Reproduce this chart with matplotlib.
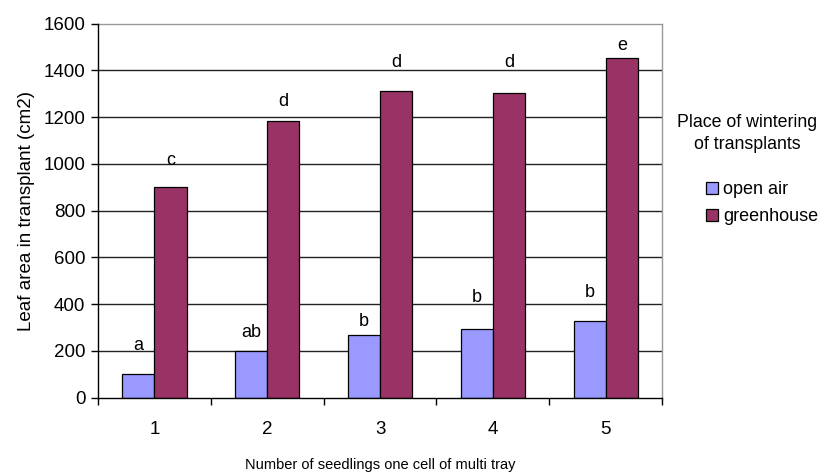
import numpy as np
import matplotlib
matplotlib.use("Agg")
import matplotlib.pyplot as plt

plt.rcParams['font.family'] = ['Liberation Sans', 'DejaVu Sans']

# leaf area per transplant, by seedlings per cell
seedlings = ['1', '2', '3', '4', '5']
open_air = [103, 200, 267, 293, 327]
greenhouse = [900, 1182, 1311, 1304, 1455]

# significance letters and the height they sit at
letters_open = ['a', 'ab', 'b', 'b', 'b']
letters_open_y = [224, 277, 327, 427, 448]
letters_green = ['c', 'd', 'd', 'd', 'e']
letters_green_y = [1015, 1267, 1434, 1434, 1506]

yticks = [0, 200, 400, 600, 800, 1000, 1200, 1400, 1600]

c_open = '#9999FF'
c_green = '#993366'

fig = plt.figure(figsize=(8.26, 4.75), dpi=100)
ax = fig.add_axes([0.1186, 0.163, 0.683, 0.787])

x = np.arange(len(seedlings))
w = 0.285
b1 = ax.bar(x - w/2, open_air, w, color=c_open, edgecolor='black', linewidth=0.9, zorder=3, label='open air')
b2 = ax.bar(x + w/2, greenhouse, w, color=c_green, edgecolor='black', linewidth=0.9, zorder=3, label='greenhouse')

for i in range(len(seedlings)):
    ax.text(x[i] - w/2, letters_open_y[i], letters_open[i], ha='center', va='center', fontsize=13)
    ax.text(x[i] + w/2, letters_green_y[i], letters_green[i], ha='center', va='center', fontsize=13)

ax.set_xlim(-0.5, len(seedlings) - 0.5)
ax.set_ylim(0, 1600)
ax.set_yticks(yticks)
ax.set_yticklabels([str(v) for v in yticks], fontsize=13.5)
ax.set_xticks(x)
ax.set_xticklabels(seedlings, fontsize=13.5)
ax.tick_params(axis='x', length=0, pad=17)
ax.set_xticks(np.arange(-0.5, len(seedlings)), minor=True)
ax.tick_params(axis='x', which='minor', length=5, width=1, direction='out')
ax.tick_params(axis='y', length=5, width=1, direction='out', pad=4)

# horizontal gridlines, the top one is the plot area border
for v in yticks[1:-1]:
    ax.axhline(v, color='#222222', linewidth=1, zorder=1)

for s in ['top', 'right']:
    ax.spines[s].set_color('#999999')
    ax.spines[s].set_linewidth(1)
for s in ['left', 'bottom']:
    ax.spines[s].set_color('black')
    ax.spines[s].set_linewidth(1)
    ax.spines[s].set_zorder(4)

ax.set_ylabel('Leaf area in transplant (cm2)', fontsize=13.5, labelpad=6)
ax.set_xlabel('Number of seedlings one cell of multi tray', fontsize=10.5, labelpad=14)

fig.text(0.905, 0.719, 'Place of wintering\nof transplants', ha='center', va='center',
         fontsize=12.8, linespacing=1.45)
fig.legend(handles=[b1, b2], loc='upper left', bbox_to_anchor=(0.855, 0.618), frameon=False,
           fontsize=13, handlelength=0.65, handleheight=0.65, handletextpad=0.3,
           labelspacing=0.55, borderaxespad=0, borderpad=0)

fig.savefig('out.png', dpi=100)
